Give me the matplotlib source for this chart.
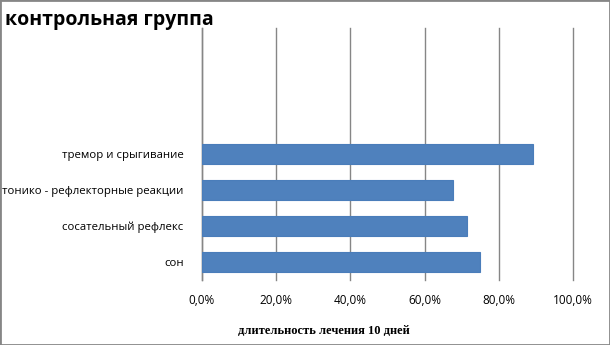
import matplotlib
matplotlib.use("Agg")
import matplotlib.pyplot as plt
from matplotlib.ticker import FuncFormatter, MultipleLocator
from matplotlib.patches import Rectangle

title = "контрольная группа"
categories = ["сон", "сосательный рефлекс", "тонико - рефлекторные реакции", "тремор и срыгивание"]
values = [0.75, 0.714, 0.677, 0.891]
xlabel = "длительность лечения 10 дней"
n_slots = 7  # chart has 3 empty category slots above

fig = plt.figure(figsize=(6.1, 3.45), dpi=100)
ax = fig.add_axes([201.7/610, 1-280/345, (573.3-201.7)/610, 252/345])

ypos = list(range(len(categories)))
ax.barh(ypos, values, height=0.55, color="#4F81BD", edgecolor="#4A7DBA", linewidth=0.8, zorder=3)
ax.set_ylim(-0.5, n_slots - 0.5)
ax.set_xlim(0, 1.0)
ax.xaxis.set_major_locator(MultipleLocator(0.2))
ax.xaxis.set_major_formatter(FuncFormatter(lambda v, p: f"{v*100:.1f}%".replace(".", ",")))
ax.set_yticks(ypos)
ax.set_yticklabels(categories, fontfamily=["Open Sans", "DejaVu Sans"], fontsize=8.2)
ax.tick_params(axis="y", length=0, pad=13)
ax.tick_params(axis="x", length=0, pad=10, labelsize=8.5)
for lab in ax.get_xticklabels():
    lab.set_fontfamily(["Open Sans", "DejaVu Sans"])
ax.grid(axis="x", color="#868686", linewidth=1.0, zorder=0)
for gl in ax.get_xgridlines():
    gl.set_clip_on(False)
for s in ["top", "right", "bottom"]:
    ax.spines[s].set_visible(False)
ax.spines["left"].set_color("#868686")
ax.spines["left"].set_linewidth(1.0)

fig.text(5/610, 1-20/345, title, fontsize=14, fontweight="bold",
         fontfamily=["Open Sans", "DejaVu Sans"], ha="left", va="center")
fig.text(324/610, 1-331/345, xlabel, fontsize=9, fontweight="bold",
         fontfamily=["Liberation Serif", "DejaVu Serif"], ha="center", va="center")

fig.patches.append(Rectangle((0, 0), 1, 1, transform=fig.transFigure, fill=False,
                             edgecolor="#868686", linewidth=2.0))

fig.savefig("out.png", dpi=100)
